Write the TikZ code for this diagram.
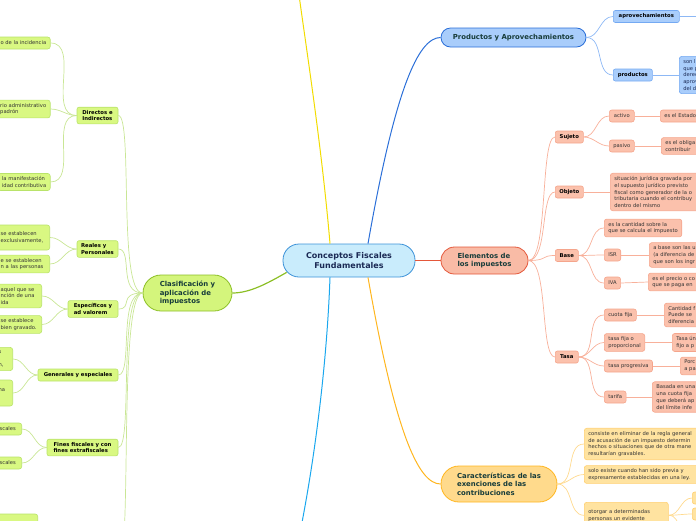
\documentclass[tikz,border=0pt]{standalone}
\usepackage{fontspec}
\setmainfont{DejaVu Sans}
\definecolor{hubfill}{HTML}{C9ECFC}
\definecolor{hubdraw}{HTML}{3C92D8}
\definecolor{hubtext}{HTML}{1B2A55}
\definecolor{toptext}{HTML}{173C3A}
\definecolor{grnfill}{HTML}{D4F57C}
\definecolor{grndraw}{HTML}{8CBF26}
\definecolor{grnleaf}{HTML}{D9F882}
\definecolor{grnedge}{HTML}{B9E36A}
\definecolor{grnline}{HTML}{C9E695}
\definecolor{blufill}{HTML}{A9CDFB}
\definecolor{bludraw}{HTML}{2B6FD8}
\definecolor{bluedge}{HTML}{74A9F2}
\definecolor{bluline}{HTML}{8DB8F5}
\definecolor{redfill}{HTML}{F9BBA6}
\definecolor{reddraw}{HTML}{E4573A}
\definecolor{redleaf}{HTML}{FBC1AC}
\definecolor{rededge}{HTML}{F5A58C}
\definecolor{redline}{HTML}{F8B09A}
\definecolor{orgfill}{HTML}{FFDA8C}
\definecolor{orgdraw}{HTML}{FFB61F}
\definecolor{orgleaf}{HTML}{FFE3A0}
\definecolor{orgedge}{HTML}{FFD070}
\definecolor{orgline}{HTML}{FFDA8E}
\definecolor{yelline}{HTML}{F2DC00}
\definecolor{cyaline}{HTML}{1AA7EE}
\begin{document}
\begin{tikzpicture}[x=1pt, y=-1pt,
  hub/.style = {shape=rectangle, rounded corners=16pt, draw=hubdraw,
    fill=hubfill, line width=0.8pt, text=hubtext, align=center,
    font=\fontsize{8}{10.5}\selectfont\bfseries,
    minimum width=132pt, minimum height=33pt},
  topic/.style 2 args = {shape=rectangle, draw=#2, fill=#1,
    line width=0.8pt, text=toptext, align=left,
    font=\fontsize{6.9}{8.3}\selectfont\bfseries},
  branch/.style 2 args = {shape=rectangle, rounded corners=2pt, draw=#2,
    fill=#1, line width=0.6pt, inner xsep=3pt, inner ysep=3pt,
    align=center, minimum height=12pt,
    font=\fontsize{5.3}{6.5}\selectfont\bfseries},
  twig/.style 2 args = {shape=rectangle, rounded corners=2.5pt, draw=#2,
    fill=#1, line width=0.6pt, inner xsep=4pt, inner ysep=3pt,
    align=left, minimum height=12pt, text=black!80,
    font=\fontsize{5.2}{6.8}\selectfont},
  link/.style = {line width=0.7pt}]
  \useasboundingbox (0,0) rectangle (696,520);
  \clip (0,0) rectangle (696,520);

  % centre and main topics
  \node[hub] (cfun) at (349,260.5) {Conceptos Fiscales\\Fundamentales};
  \node[topic={grnfill}{grndraw}, rounded corners=18pt, minimum width=89pt,
    minimum height=36pt] (clas) at (187.5,293) {Clasificación y\\aplicación de\\impuestos};
  \node[topic={blufill}{bludraw}, rounded corners=9.5pt, minimum width=145pt,
    minimum height=19pt] (prod) at (513.5,37.5) {Productos y Aprovechamientos};
  \node[topic={redfill}{reddraw}, rounded corners=13.5pt, minimum width=87pt,
    minimum height=27pt] (elem) at (484.5,260.5) {Elementos de\\los impuestos};
  \node[topic={orgfill}{orgdraw}, rounded corners=18pt, minimum width=116pt,
    minimum height=36pt] (carac) at (499,484) {Características de las\\exenciones de las\\contribuciones};

  \coordinate (ytop) at (299,-5);
  \coordinate (cbot) at (301.5,525);
  \draw[yelline, line width=1pt] ([xshift=-19pt]cfun.north) .. controls (322,150) and (308,60) .. (ytop);
  \draw[cyaline, line width=1pt] ([xshift=-19pt]cfun.south) .. controls (327,360) and (316,450) .. (cbot);
  \draw[bludraw, line width=1pt] ([xshift=19pt]cfun.north) .. controls (395,90) and (418,37.5) .. (prod.west);
  \draw[orgdraw, line width=1pt] ([xshift=19pt]cfun.south) .. controls (395,431) and (418,484) .. (carac.west);
  \draw[reddraw, line width=1pt] (cfun.east) -- (elem.west);
  \draw[grndraw, line width=1.2pt] ([xshift=4pt,yshift=5pt]cfun.south west) .. controls (268,283) and (250,293) .. (clas.east);

  % clasificacion
  \node[branch={grnleaf}{grnedge}, minimum width=41pt, align=left] (dir) at (97.5,115.5) {Directos e\\Indirectos};
  \node[branch={grnleaf}{grnedge}, minimum width=41pt, align=left] (real) at (97.5,249) {Reales y\\Personales};
  \node[branch={grnleaf}{grnedge}, minimum width=50pt, align=left] (esp) at (93,309) {Específicos y\\ad valorem};
  \node[branch={grnleaf}{grnedge}, minimum width=80pt] (gen) at (78,375) {Generales y especiales};
  \node[branch={grnleaf}{grnedge}, minimum width=71pt, align=left] (fin) at (82.5,447.5) {Fines fiscales y con\\fines extrafiscales};
  \coordinate (gbot) at (118,565);
  \foreach \n in {dir,real,esp,gen,fin}
    \draw[grnline, link] (clas.west) .. controls +(-25,0) and +(15,0) .. (\n.east);
  \draw[grnline, link] (clas.west) .. controls +(-25,0) and +(15,0) .. (gbot);

  \node[twig={grnleaf}{grnedge}, anchor=east] (dir1) at (50.5,43) {o de la incidencia};
  \node[twig={grnleaf}{grnedge}, anchor=east] (dir2) at (50.5,109) {rio administrativo\\ padrón};
  \node[twig={grnleaf}{grnedge}, anchor=east] (dir3) at (50.5,182) {la manifestación\\idad contributiva};
  \node[twig={grnleaf}{grnedge}, anchor=east, text width=45pt, minimum height=25pt] (real1) at (50,237.5) {se establecen\\exclusivamente,};
  \node[twig={grnleaf}{grnedge}, anchor=east, text width=45pt] (real2) at (50,264) {e se establecen\\n a las personas};
  \node[twig={grnleaf}{grnedge}, anchor=east, text width=37pt] (esp1) at (42,296) {aquel que se\\nción de una\\ida};
  \node[twig={grnleaf}{grnedge}, anchor=east, text width=37pt] (esp2) at (42,324.5) {se establece\\bien gravado.};
  \node[twig={grnleaf}{grnedge}, anchor=east, text width=10pt] (gen1) at (13,359) {s\\[6.8pt]n,};
  \node[twig={grnleaf}{grnedge}, anchor=east, text width=10pt, minimum height=26pt] (gen2) at (13,393) {na\\~};
  \node[twig={grnleaf}{grnedge}, anchor=east, text width=18pt] (fin1) at (22,429) {scales};
  \node[twig={grnleaf}{grnedge}, anchor=east, text width=18pt] (fin2) at (22,463) {scales};
  \node[twig={grnleaf}{grnedge}, anchor=east, text width=40pt, minimum height=28pt] (more) at (38,528) {};
  \foreach \a/\b in {dir/dir1,dir/dir2,dir/dir3,real/real1,real/real2,esp/esp1,esp/esp2,gen/gen1,gen/gen2,fin/fin1,fin/fin2}
    \draw[grnline, link] (\a.west) to[out=180,in=0] (\b.east);

  % productos
  \node[branch={blufill}{bluedge}, anchor=west, minimum width=66pt] (aprov) at (613,16.5) {aprovechamientos};
  \node[branch={blufill}{bluedge}, anchor=west, minimum width=39pt] (produc) at (613,75) {productos};
  \node[twig={blufill}{bluedge}, anchor=west, text width=40pt, text=hubtext] (producdef) at (679,75) {son l\\que p\\derec\\aprov\\del d};
  \coordinate (aprovnext) at (710,16.5);
  \draw[bluline, link] (prod.east) to[out=0,in=180] (aprov.west);
  \draw[bluline, link] (prod.east) to[out=0,in=180] (produc.west);
  \draw[bluline, link] (aprov.east) -- (aprovnext);
  \draw[bluline, link] (produc.east) -- (producdef.west);

  % elementos
  \node[branch={redleaf}{rededge}, anchor=west, minimum width=28pt] (suj) at (555,137) {Sujeto};
  \node[branch={redleaf}{rededge}, anchor=west, minimum width=28pt] (obj) at (555,192) {Objeto};
  \node[branch={redleaf}{rededge}, anchor=west, minimum width=23pt] (base) at (555,255.5) {Base};
  \node[branch={redleaf}{rededge}, anchor=west, minimum width=23pt] (tasa) at (555,357) {Tasa};
  \foreach \n in {suj,obj,base,tasa}
    \draw[redline, link] (elem.east) .. controls +(20,0) and +(-15,0) .. (\n.west);

  \node[twig={redleaf}{rededge}, anchor=west, minimum width=25pt] (act) at (609,116) {activo};
  \node[twig={redleaf}{rededge}, anchor=west, minimum width=25pt] (pas) at (609,146) {pasivo};
  \node[twig={redleaf}{rededge}, anchor=west] (basedef) at (604,228) {es la cantidad sobre la\\que se calcula el impuesto};
  \node[twig={redleaf}{rededge}, anchor=west] (isr) at (604,255) {ISR};
  \node[twig={redleaf}{rededge}, anchor=west] (iva) at (604,283) {IVA};
  \node[twig={redleaf}{rededge}, anchor=west] (cuota) at (604,315) {cuota fija};
  \node[twig={redleaf}{rededge}, anchor=west] (tfija) at (604,342.5) {tasa fija o\\proporcional};
  \node[twig={redleaf}{rededge}, anchor=west] (tprog) at (604,366) {tasa progresiva};
  \node[twig={redleaf}{rededge}, anchor=west] (tarifa) at (604,397) {tarifa};

  \node[twig={redleaf}{rededge}, anchor=west, text width=60pt] (actdef) at (660,116) {es el Estado};
  \node[twig={redleaf}{rededge}, anchor=west, text width=60pt] (pasdef) at (661,146) {es el obliga\\contribuir};
  \node[twig={redleaf}{rededge}, anchor=west, text width=100pt] (objdef) at (610,192) {situación jurídica gravada por\\ el supuesto jurídico previsto\\fiscal como generador de la o\\tributaria cuando el contribuy\\dentro del mismo};
  \node[twig={redleaf}{rededge}, anchor=west, text width=60pt] (isrdef) at (649,255) {a base son las u\\(a diferencia de\\que son los ingr};
  \node[twig={redleaf}{rededge}, anchor=west, text width=60pt] (ivadef) at (648,282) {es el precio o co\\que se paga en};
  \node[twig={redleaf}{rededge}, anchor=west, text width=60pt] (cuotadef) at (664,315) {Cantidad f\\Puede se\\diferencia};
  \node[twig={redleaf}{rededge}, anchor=west, text width=60pt] (tfijadef) at (672,342.5) {Tasa ún\\fijo a p};
  \node[twig={redleaf}{rededge}, anchor=west, text width=60pt] (tprogdef) at (680,366) {Porc\\a pa};
  \node[twig={redleaf}{rededge}, anchor=west, text width=60pt] (tarifadef) at (652,397) {Basada en una\\una cuota fija\\que deberá ap\\del límite infe};
  \foreach \a/\b in {suj/act,suj/pas,base/basedef,base/isr,base/iva,tasa/cuota,tasa/tfija,tasa/tprog,tasa/tarifa}
    \draw[redline, link] (\a.east) to[out=0,in=180] (\b.west);
  \foreach \a/\b in {act/actdef,pas/pasdef,obj/objdef,isr/isrdef,iva/ivadef,cuota/cuotadef,tfija/tfijadef,tprog/tprogdef,tarifa/tarifadef}
    \draw[redline, link] (\a.east) -- (\b.west);

  % exenciones
  \node[twig={orgleaf}{orgedge}, anchor=west, text width=120pt] (exc1) at (584,444) {consiste en eliminar de la regla general\\de acusación de un impuesto determin\\hechos o situaciones que de otra mane\\ resultarían gravables.};
  \node[twig={orgleaf}{orgedge}, anchor=west, text width=120pt] (exc2) at (584,474.5) {solo existe cuando han sido previa y\\expresamente establecidas en una ley.};
  \node[twig={orgleaf}{orgedge}, anchor=north west, text width=76pt, minimum height=26pt] (exc3) at (584,502) {otorgar a determinadas\\personas un evidente};
  \node[twig={orgleaf}{orgedge}, anchor=west, minimum width=20pt] (exc3a) at (692,498) {};
  \node[twig={orgleaf}{orgedge}, anchor=west, minimum width=20pt] (exc3b) at (692,514) {};
  \coordinate (exc3c) at (692,545);
  \foreach \n in {exc1,exc2,exc3}
    \draw[orgline, link] (carac.east) to[out=0,in=180] (\n.west);
  \foreach \n in {exc3a,exc3b}
    \draw[orgline, link] (exc3.east) to[out=0,in=180] (\n.west);
  \draw[orgline, link] (exc3.east) to[out=0,in=180] (exc3c);
\end{tikzpicture}
\end{document}
